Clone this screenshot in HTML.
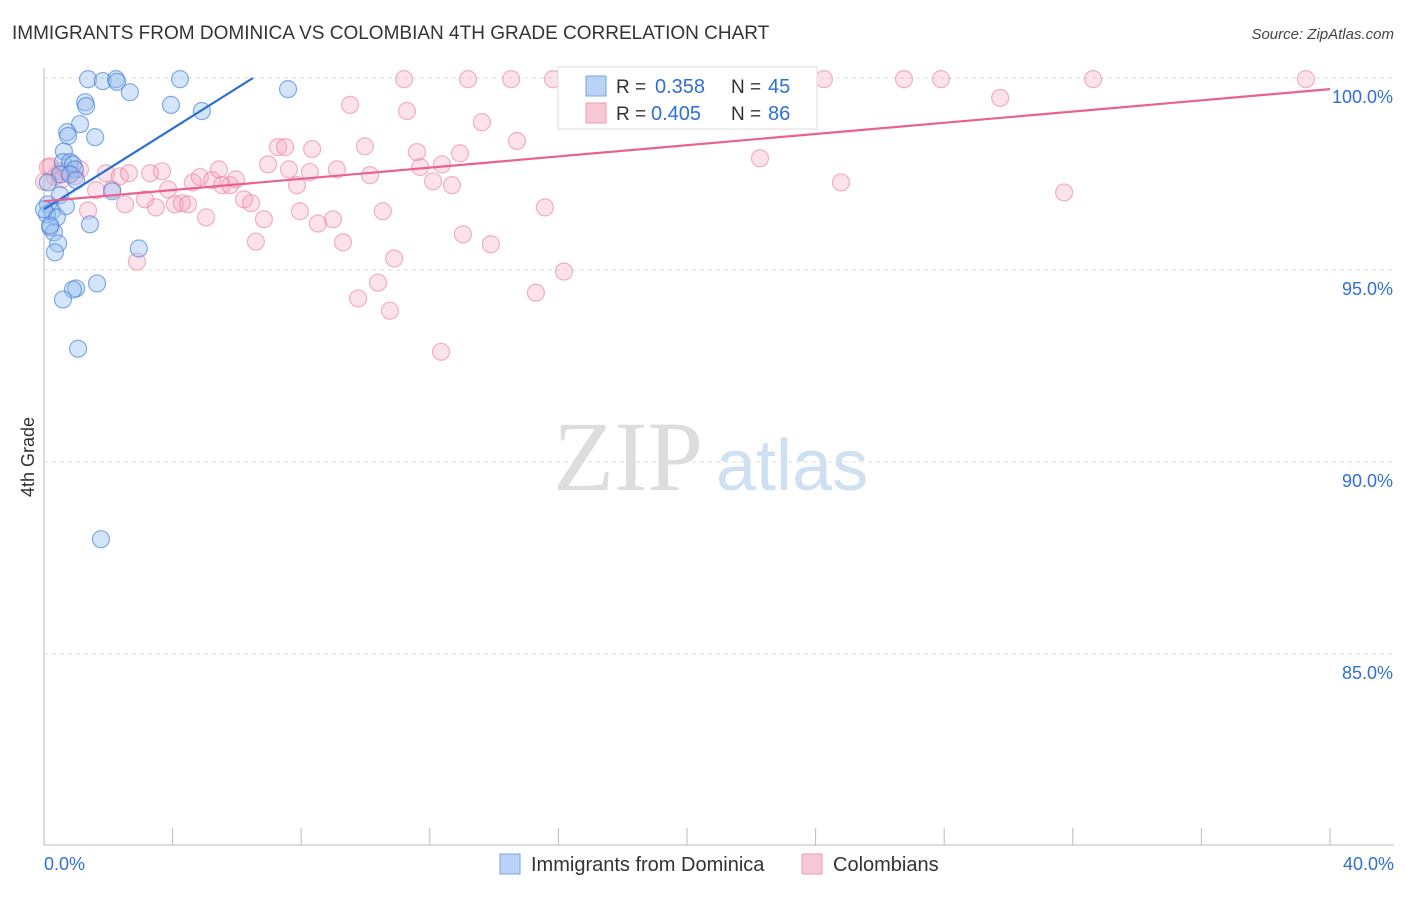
<!DOCTYPE html>
<html><head><meta charset="utf-8"><style>
body{margin:0;background:#fff;font-family:"Liberation Sans",sans-serif}
svg text{font-family:"Liberation Sans",sans-serif}
</style></head><body>
<svg id="c" width="1406" height="892">
<text x="12" y="39" font-size="19" fill="#333">IMMIGRANTS FROM DOMINICA VS COLOMBIAN 4TH GRADE CORRELATION CHART</text>
<text x="1394" y="39" font-size="15" fill="#444" font-style="italic" text-anchor="end">Source: ZipAtlas.com</text>
<text x="553" y="490" font-size="100" fill="#ddd" style="font-family:'Liberation Serif',serif">ZIP</text>
<text x="716" y="490" font-size="72" fill="#cfe0f3">atlas</text>
<text transform="translate(34,457) rotate(-90)" font-size="18" fill="#333" text-anchor="middle">4th Grade</text>
<g id="grid"></g><g id="pts"></g><g id="trend"></g>
<g>
<rect x="558" y="67" width="259" height="62" fill="#fff" stroke="#ddd"/>
<rect x="586" y="76" width="20" height="20" fill="#b8d3f5" stroke="#7aa6e0"/>
<text x="616" y="93" font-size="19" fill="#333">R =</text>
<text x="655" y="93" font-size="20" fill="#2f6fd6">0.358</text>
<text x="731" y="93" font-size="19" fill="#333">N =</text>
<text x="768" y="93" font-size="20" fill="#2f6fd6">45</text>
<rect x="586" y="103" width="20" height="20" fill="#f8c8d6" stroke="#ee9ab3"/>
<text x="616" y="120" font-size="19" fill="#333">R =</text>
<text x="651" y="120" font-size="20" fill="#2f6fd6">0.405</text>
<text x="731" y="120" font-size="19" fill="#333">N =</text>
<text x="768" y="120" font-size="20" fill="#2f6fd6">86</text>
</g>
<g>
<rect x="500" y="854" width="20" height="20" fill="#b8d3f5" stroke="#7aa6e0"/>
<text x="531" y="871" font-size="20" fill="#333">Immigrants from Dominica</text>
<rect x="802" y="854" width="20" height="20" fill="#f8c8d6" stroke="#ee9ab3"/>
<text x="833" y="871" font-size="20" fill="#333">Colombians</text>
</g>
</svg>
<script>
const blueX=[1.37,1.83,2.24,2.27,4.23,2.67,7.59,1.28,1.31,3.95,4.91,1.12,0.72,0.75,1.59,0.62,0.59,0.81,0.90,0.96,0.50,0.81,1.00,0.12,2.12,0.50,0.12,0.68,0.25,0.09,0.40,1.43,0.19,0.31,0.44,2.95,0.34,1.65,1.00,0.90,0.59,1.06,1.77,0.19,0.0];
const blueY=[99.97,99.92,99.97,99.90,99.97,99.63,99.71,99.37,99.27,99.30,99.14,98.80,98.59,98.49,98.46,98.09,97.81,97.81,97.75,97.62,97.49,97.49,97.34,97.28,97.05,96.95,96.71,96.66,96.53,96.45,96.37,96.19,96.11,95.98,95.69,95.56,95.46,94.65,94.52,94.49,94.23,92.95,87.99,96.16,96.58];
const pinkX=[0.12,0.34,0.56,0.50,0.72,1.12,0.96,1.37,1.62,1.93,2.12,2.36,2.52,2.64,2.89,3.14,3.30,3.48,3.67,3.86,4.07,4.29,4.48,4.63,4.85,5.04,5.23,5.44,5.54,5.79,5.97,6.22,6.44,6.59,6.84,6.97,7.28,7.50,7.62,7.87,7.96,8.34,8.27,8.52,8.99,9.11,9.30,9.52,9.77,9.98,10.14,10.39,10.54,10.76,10.89,11.20,11.29,11.60,11.70,12.10,12.38,12.69,12.94,12.35,13.03,13.19,13.62,13.90,14.53,14.71,15.30,15.58,15.83,16.17,22.27,24.26,24.79,26.75,27.90,29.74,31.73,32.63,39.25,20.78,0.0,0.2];
const pinkY=[97.68,97.42,97.36,97.57,97.57,97.62,97.44,96.55,97.08,97.52,97.10,97.44,96.71,97.52,95.22,96.84,97.52,96.63,97.57,97.10,96.71,96.74,96.71,97.28,97.42,96.37,97.34,97.62,97.21,97.21,97.36,96.84,96.74,95.74,96.32,97.75,98.20,98.20,97.62,97.21,96.53,98.15,97.55,96.21,96.32,97.62,95.72,99.30,94.26,98.22,97.47,94.67,96.53,93.94,95.30,99.97,99.14,98.07,97.68,97.31,97.75,97.21,98.04,92.87,95.93,99.97,98.85,95.67,99.97,98.36,94.41,96.63,99.97,94.96,97.91,99.97,97.28,99.97,99.97,99.48,97.02,99.97,99.97,99.97,97.30,97.70];
const blueTrend=[0,96.58,6.5,100.0];
const pinkTrend=[0,96.79,40,99.71];
const yTicks=[100,95,90,85];
const yTickLabels=["100.0%","95.0%","90.0%","85.0%"];
const xTickLabels=["0.0%","40.0%"];
const sx=v=>44+v*32.15, sy=v=>78+(100-v)*38.4;
const NS="http://www.w3.org/2000/svg";
function mk(p,t,a){const e=document.createElementNS(NS,t);for(const k in a)e.setAttribute(k,a[k]);p.appendChild(e);return e;}
const g=document.getElementById('grid');
yTicks.forEach((t,i)=>{
 const l=mk(g,'line',{x1:44,x2:1394,y1:sy(t),y2:sy(t),stroke:'#ddd','stroke-dasharray':'4,4'});
 
 
 const tx=mk(g,'text',{x:1393,y:sy(t)+25,'font-size':18,fill:'#2f6fd6','text-anchor':'end'});tx.textContent=yTickLabels[i];
 
 
});
const ax=mk(g,'line',{x1:44,x2:44,y1:68,y2:845,stroke:'#bbb'});


const bx=mk(g,'line',{x1:44,x2:1394,y1:845,y2:845,stroke:'#bbb'});


for(let i=0;i<=10;i++){const t=mk(g,'line',{x1:sx(i*4),x2:sx(i*4),y1:828,y2:845,stroke:'#bbb'});
 
 }
[[0,'start',44],[40,'end',1394]].forEach((d,i)=>{const t=mk(g,'text',{x:d[2],y:870,'font-size':18,fill:'#2f6fd6','text-anchor':d[1]});t.textContent=xTickLabels[i];
 
 });
const P=document.getElementById('pts');
pinkX.forEach((x,i)=>{const c=mk(P,'circle',{cx:sx(x),cy:sy(pinkY[i]),r:8.5,fill:'rgba(244,160,188,0.3)',stroke:'rgba(232,120,155,0.55)','stroke-width':1.2});
 
 });
blueX.forEach((x,i)=>{const c=mk(P,'circle',{cx:sx(x),cy:sy(blueY[i]),r:8.5,fill:'rgba(150,190,240,0.4)',stroke:'rgba(60,120,210,0.6)','stroke-width':1.2});
 
 });
const T=document.getElementById('trend');
const b=mk(T,'line',{x1:sx(blueTrend[0]),y1:sy(blueTrend[1]),x2:sx(blueTrend[2]),y2:sy(blueTrend[3]),stroke:'#2a6fd4','stroke-width':2.2});


const p=mk(T,'line',{x1:sx(pinkTrend[0]),y1:sy(pinkTrend[1]),x2:sx(pinkTrend[2]),y2:sy(pinkTrend[3]),stroke:'#e8628e','stroke-width':2.2});


</script>
</body></html>
